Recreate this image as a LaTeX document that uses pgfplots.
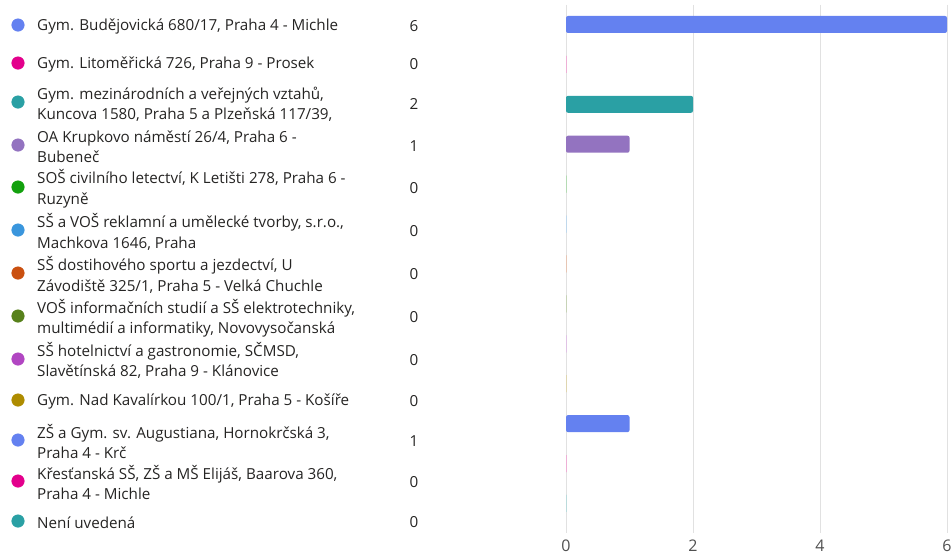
\documentclass[border=0pt]{standalone}
\usepackage{pgfplots}
\pgfplotsset{compat=1.18}
\usepackage{fontspec}
\setmainfont{Open Sans}
\definecolor{c1}{HTML}{6481F0}
\definecolor{c2}{HTML}{E3008C}
\definecolor{c3}{HTML}{2AA0A4}
\definecolor{c4}{HTML}{9373C0}
\definecolor{c5}{HTML}{13A10E}
\definecolor{c6}{HTML}{3A96DD}
\definecolor{c7}{HTML}{CA5010}
\definecolor{c8}{HTML}{57811B}
\definecolor{c9}{HTML}{B146C2}
\definecolor{c10}{HTML}{AE8C00}
\definecolor{txt}{HTML}{252423}
\definecolor{tickc}{HTML}{505050}
\definecolor{gridc}{HTML}{E1E1E1}
\tikzset{lbl/.style={font=\fontsize{15.2}{20.5}\selectfont, text=txt, anchor=west, align=left, inner sep=0pt, yshift=-1.5pt},
         cnt/.style={font=\fontsize{15.2}{20}\selectfont, text=txt, inner sep=0pt, yshift=-1.5pt}}
\begin{document}
\begin{tikzpicture}
\path[use as bounding box] (0,0) rectangle (952pt,-554pt);
% legend / label axis in pixel units
\begin{axis}[
  at={(0,0)}, anchor=north west,
  width=952pt, height=554pt, scale only axis,
  xmin=0, xmax=952, ymin=0, ymax=554, y dir=reverse,
  hide axis, clip=false,
]
\addplot[only marks, mark=*, mark size=6.3pt, c1, mark options={draw=none,fill=c1}] coordinates {(18,25)};
\addplot[only marks, mark=*, mark size=6.3pt, c2, mark options={draw=none,fill=c2}] coordinates {(18,63)};
\addplot[only marks, mark=*, mark size=6.3pt, c3, mark options={draw=none,fill=c3}] coordinates {(18,102)};
\addplot[only marks, mark=*, mark size=6.3pt, c4, mark options={draw=none,fill=c4}] coordinates {(18,145)};
\addplot[only marks, mark=*, mark size=6.3pt, c5, mark options={draw=none,fill=c5}] coordinates {(18,187)};
\addplot[only marks, mark=*, mark size=6.3pt, c6, mark options={draw=none,fill=c6}] coordinates {(18,230)};
\addplot[only marks, mark=*, mark size=6.3pt, c7, mark options={draw=none,fill=c7}] coordinates {(18,273)};
\addplot[only marks, mark=*, mark size=6.3pt, c8, mark options={draw=none,fill=c8}] coordinates {(18,316)};
\addplot[only marks, mark=*, mark size=6.3pt, c9, mark options={draw=none,fill=c9}] coordinates {(18,359)};
\addplot[only marks, mark=*, mark size=6.3pt, c10, mark options={draw=none,fill=c10}] coordinates {(18,400)};
\addplot[only marks, mark=*, mark size=6.3pt, c1, mark options={draw=none,fill=c1}] coordinates {(18,440)};
\addplot[only marks, mark=*, mark size=6.3pt, c2, mark options={draw=none,fill=c2}] coordinates {(18,481)};
\addplot[only marks, mark=*, mark size=6.3pt, c3, mark options={draw=none,fill=c3}] coordinates {(18,521)};
% labels
\node[lbl] at (axis cs:37,25) {Gym. Budějovická 680/17, Praha 4 - Michle};
\node[lbl] at (axis cs:37,63) {Gym. Litoměřická 726, Praha 9 - Prosek};
\node[lbl] at (axis cs:37,103) {Gym. mezinárodních a veřejných vztahů,\\Kuncova 1580, Praha 5 a Plzeňská 117/39,};
\node[lbl] at (axis cs:37,145) {OA Krupkovo náměstí 26/4, Praha 6 -\\Bubeneč};
\node[lbl] at (axis cs:37,187) {SOŠ civilního letectví, K Letišti 278, Praha 6 -\\Ruzyně};
\node[lbl] at (axis cs:37,230.5) {SŠ a VOŠ reklamní a umělecké tvorby, s.r.o.,\\Machkova 1646, Praha};
\node[lbl] at (axis cs:37,273.5) {SŠ dostihového sportu a jezdectví, U\\Závodiště 325/1, Praha 5 - Velká Chuchle};
\node[lbl] at (axis cs:37,316.5) {VOŠ informačních studií a SŠ elektrotechniky,\\multimédií a informatiky, Novovysočanská};
\node[lbl] at (axis cs:37,359) {SŠ hotelnictví a gastronomie, SČMSD,\\Slavětínská 82, Praha 9 - Klánovice};
\node[lbl] at (axis cs:37,400) {Gym. Nad Kavalírkou 100/1, Praha 5 - Košíře};
\node[lbl] at (axis cs:37,440) {ZŠ a Gym. sv. Augustiana, Hornokrčská 3,\\Praha 4 - Krč};
\node[lbl] at (axis cs:37,481) {Křesťanská SŠ, ZŠ a MŠ Elijáš, Baarova 360,\\Praha 4 - Michle};
\node[lbl] at (axis cs:37,521) {Není uvedená};
% counts
\node[cnt] at (axis cs:414,25) {6};
\node[cnt] at (axis cs:414,63) {0};
\node[cnt] at (axis cs:414,102) {2};
\node[cnt] at (axis cs:414,145) {1};
\node[cnt] at (axis cs:414,187) {0};
\node[cnt] at (axis cs:414,230) {0};
\node[cnt] at (axis cs:414,273) {0};
\node[cnt] at (axis cs:414,316) {0};
\node[cnt] at (axis cs:414,359) {0};
\node[cnt] at (axis cs:414,400) {0};
\node[cnt] at (axis cs:414,440) {1};
\node[cnt] at (axis cs:414,481) {0};
\node[cnt] at (axis cs:414,521) {0};
\end{axis}
% bar axis
\begin{axis}[
  at={(566pt,-4.5pt)}, anchor=north west,
  width=381pt, height=528.5pt, scale only axis,
  xmin=0, xmax=6, ymin=-0.5, ymax=12.74, y dir=reverse,
  xbar, bar width=17pt, bar shift=0pt,
  xtick={0,2,4,6}, ytick=\empty,
  xticklabels={0,2,4,6},
  xmajorgrids, grid style={draw=gridc, line width=0.9pt},
  axis line style={draw=none}, major tick length=0pt,
  xticklabel style={font=\fontsize{16}{16}\selectfont, text=tickc, inner sep=0pt, anchor=center, yshift=-13pt},
  clip=false,
]
\addplot[fill=c1, draw=none, rounded corners=2pt] coordinates {(6,0)};
\addplot[fill=c2, draw=c2!35, line width=1pt] coordinates {(0,1)};
\addplot[fill=c3, draw=none, rounded corners=2pt] coordinates {(2,2)};
\addplot[fill=c4, draw=none, rounded corners=2pt] coordinates {(1,3)};
\addplot[fill=c5, draw=c5!35, line width=1pt] coordinates {(0,4)};
\addplot[fill=c6, draw=c6!35, line width=1pt] coordinates {(0,5)};
\addplot[fill=c7, draw=c7!35, line width=1pt] coordinates {(0,6)};
\addplot[fill=c8, draw=c8!35, line width=1pt] coordinates {(0,7)};
\addplot[fill=c9, draw=c9!35, line width=1pt] coordinates {(0,8)};
\addplot[fill=c10, draw=c10!35, line width=1pt] coordinates {(0,9)};
\addplot[fill=c1, draw=none, rounded corners=2pt] coordinates {(1,10)};
\addplot[fill=c2, draw=c2!35, line width=1pt] coordinates {(0,11)};
\addplot[fill=c3, draw=c3!35, line width=1pt] coordinates {(0,12)};
\end{axis}
\end{tikzpicture}
\end{document}
